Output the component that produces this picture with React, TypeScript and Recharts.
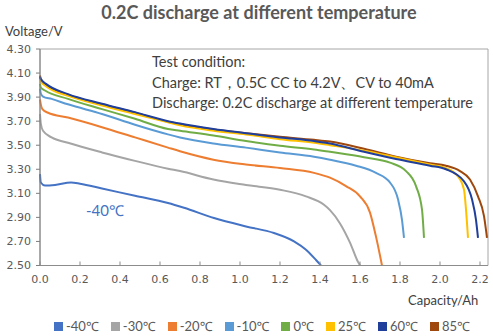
import React from "react";
import {
  Line,
  LineChart,
  ReferenceArea,
  XAxis,
  YAxis,
} from "recharts";

// capacity (Ah) / voltage (V) pairs per temperature
const capM40 = [0, 0.004, 0.025, 0.075, 0.155, 0.2, 0.31, 0.475, 0.64, 0.72, 0.87, 1.03, 1.17, 1.27, 1.33, 1.38, 1.405];
const voltM40 = [3.26, 3.19, 3.165, 3.17, 3.19, 3.18, 3.14, 3.08, 3.02, 2.98, 2.895, 2.825, 2.77, 2.7, 2.63, 2.546, 2.5];

const capM30 = [0, 0.004, 0.015, 0.058, 0.14, 0.31, 0.475, 0.64, 0.7, 0.867, 1.03, 1.2, 1.33, 1.42, 1.45, 1.5, 1.55, 1.59, 1.6];
const voltM30 = [3.76, 3.68, 3.62, 3.565, 3.52, 3.44, 3.37, 3.305, 3.285, 3.215, 3.17, 3.13, 3.075, 3.005, 2.96, 2.85, 2.69, 2.53, 2.5];

const capM20 = [0, 0.004, 0.012, 0.04, 0.14, 0.31, 0.475, 0.64, 0.7, 0.867, 1.03, 1.2, 1.37, 1.45, 1.53, 1.6, 1.65, 1.68, 1.71];
const voltM20 = [3.88, 3.84, 3.8, 3.77, 3.73, 3.65, 3.565, 3.48, 3.45, 3.38, 3.34, 3.31, 3.27, 3.23, 3.16, 3.075, 2.94, 2.74, 2.5];

const capM10 = [0, 0.004, 0.015, 0.058, 0.14, 0.31, 0.475, 0.64, 0.7, 0.867, 1.03, 1.2, 1.37, 1.45, 1.58, 1.68, 1.75, 1.79, 1.81, 1.82];
const voltM10 = [3.97, 3.93, 3.905, 3.885, 3.84, 3.76, 3.67, 3.59, 3.565, 3.515, 3.48, 3.44, 3.405, 3.38, 3.33, 3.27, 3.19, 3.05, 2.88, 2.73];

const cap0 = [0, 0.004, 0.025, 0.14, 0.31, 0.475, 0.64, 0.7, 0.867, 1.03, 1.2, 1.37, 1.45, 1.62, 1.75, 1.83, 1.88, 1.91, 1.92];
const volt0 = [4.01, 3.98, 3.955, 3.885, 3.8, 3.72, 3.635, 3.62, 3.58, 3.535, 3.495, 3.465, 3.445, 3.4, 3.355, 3.285, 3.16, 2.965, 2.73];

const cap25 = [0, 0.004, 0.03, 0.14, 0.31, 0.475, 0.64, 0.7, 0.867, 1.03, 1.2, 1.37, 1.45, 1.62, 1.78, 1.95, 2.03, 2.09, 2.12, 2.13, 2.14];
const volt25 = [4.05, 4.03, 3.99, 3.91, 3.83, 3.76, 3.69, 3.665, 3.62, 3.59, 3.55, 3.52, 3.5, 3.455, 3.4, 3.34, 3.31, 3.24, 3.13, 2.965, 2.73];

const cap60 = [0, 0.004, 0.03, 0.14, 0.31, 0.475, 0.64, 0.7, 0.867, 1.03, 1.2, 1.37, 1.45, 1.62, 1.78, 1.95, 2.03, 2.12, 2.16, 2.18, 2.19];
const volt60 = [4.07, 4.05, 4.01, 3.925, 3.845, 3.775, 3.7, 3.68, 3.635, 3.6, 3.565, 3.535, 3.515, 3.445, 3.385, 3.33, 3.3, 3.2, 3.05, 2.88, 2.73];

const cap85 = [0, 0.004, 0.03, 0.14, 0.31, 0.475, 0.64, 0.867, 1.03, 1.2, 1.37, 1.45, 1.62, 1.78, 1.95, 2.03, 2.1, 2.15, 2.19, 2.22, 2.235];
const volt85 = [4.08, 4.05, 4.005, 3.92, 3.84, 3.77, 3.695, 3.63, 3.6, 3.57, 3.545, 3.53, 3.47, 3.405, 3.35, 3.33, 3.285, 3.215, 3.075, 2.91, 2.73];

const seriesNames = ["-40℃", "-30℃", "-20℃", "-10℃", "0℃", "25℃", "60℃", "85℃"];
const seriesColors = ["#4472c4", "#a5a5a5", "#ed7d31", "#5b9bd5", "#70ad47", "#ffc000", "#203f9a", "#9e480e"];
const capacities = [capM40, capM30, capM20, capM10, cap0, cap25, cap60, cap85];
const voltages = [voltM40, voltM30, voltM20, voltM10, volt0, volt25, volt60, volt85];

const xTicks = [0, 0.2, 0.4, 0.6, 0.8, 1.0, 1.2, 1.4, 1.6, 1.8, 2.0, 2.2];
const yTicks = [2.5, 2.7, 2.9, 3.1, 3.3, 3.5, 3.7, 3.9, 4.1, 4.3];

const series = seriesNames.map((name, i) => ({
  name,
  color: seriesColors[i],
  data: capacities[i].map((cap, j) => ({ cap, v: voltages[i][j] })),
}));

// brown first so it sits underneath like in the original
const drawOrder = [7, 0, 1, 2, 3, 4, 5, 6];

const tickFont = "'DejaVu Sans', Verdana, sans-serif";
const textFont = "Lato, 'Noto Sans', sans-serif";

function XTick(props: any) {
  const { x, y, payload } = props;
  return (
    <g>
      <line x1={x} y1={y - 4} x2={x} y2={y} stroke="#8c8c8c" />
      <text
        x={x}
        y={y + 17}
        textAnchor="middle"
        fill="#595959"
        fontSize={11}
        fontFamily={tickFont}
      >
        {Number(payload.value).toFixed(1)}
      </text>
    </g>
  );
}

export default function App() {
  return (
    <div
      style={{
        position: "absolute",
        left: 0,
        top: 0,
        width: 493,
        height: 336,
        background: "#fff",
        fontFamily: textFont,
      }}
    >
      <LineChart
        width={493}
        height={336}
        margin={{ top: 49, right: 5, bottom: 40.5, left: 0 }}
      >
        <ReferenceArea
          x1={0}
          x2={2.24}
          y1={2.5}
          y2={4.3}
          fill="none"
          stroke="#a6a6a6"
          strokeWidth={1}
        />
        <XAxis
          type="number"
          dataKey="cap"
          domain={[0, 2.24]}
          ticks={xTicks}
          interval={0}
          height={30}
          tickSize={0}
          tickMargin={0}
          tick={<XTick />}
          axisLine={{ stroke: "#8c8c8c" }}
          allowDuplicatedCategory={false}
        />
        <YAxis
          type="number"
          domain={[2.5, 4.3]}
          ticks={yTicks}
          interval={0}
          width={40}
          tickSize={4}
          tickMargin={5}
          tickFormatter={(v: number) => v.toFixed(2)}
          tick={{ fill: "#595959", fontSize: 11, fontFamily: tickFont }}
          axisLine={{ stroke: "#7f7f7f" }}
          tickLine={{ stroke: "#7f7f7f" }}
        />
        {drawOrder.map((i) => (
          <Line
            key={series[i].name}
            name={series[i].name}
            data={series[i].data}
            dataKey="v"
            type="monotone"
            stroke={series[i].color}
            strokeWidth={2}
            dot={false}
            isAnimationActive={false}
          />
        ))}
      </LineChart>

      <div
        style={{
          position: "absolute",
          left: 0,
          top: 2,
          width: 518,
          textAlign: "center",
          fontSize: 18,
          fontWeight: 700,
          lineHeight: "20px",
          color: "#595959",
        }}
      >
        0.2C discharge at different temperature
      </div>
      <div
        style={{
          position: "absolute",
          left: 5,
          top: 23,
          fontSize: 13,
          lineHeight: "16px",
          color: "#404040",
        }}
      >
        Voltage/V
      </div>
      <div
        style={{
          position: "absolute",
          left: 152,
          top: 52,
          fontSize: 14.5,
          lineHeight: "20.5px",
          color: "#404040",
          whiteSpace: "nowrap",
        }}
      >
        <div>Test condition:</div>
        <div>Charge: RT，0.5C CC to 4.2V、CV to 40mA</div>
        <div>Discharge: 0.2C discharge at different temperature</div>
      </div>
      <div
        style={{
          position: "absolute",
          left: 86,
          top: 201,
          fontSize: 15,
          lineHeight: "18px",
          color: "#4472c4",
        }}
      >
        -40℃
      </div>
      <div
        style={{
          position: "absolute",
          left: 408,
          top: 292,
          fontSize: 13,
          lineHeight: "16px",
          color: "#404040",
        }}
      >
        Capacity/Ah
      </div>
      <div
        style={{
          position: "absolute",
          left: 54,
          top: 318,
          display: "flex",
          alignItems: "center",
          fontSize: 13,
          lineHeight: "16px",
          color: "#595959",
          whiteSpace: "nowrap",
        }}
      >
        {series.map((s) => (
          <div
            key={s.name}
            style={{ display: "flex", alignItems: "center", marginRight: 12 }}
          >
            <span
              style={{
                display: "inline-block",
                width: 9,
                height: 9,
                background: s.color,
                marginRight: 3,
              }}
            />
            <span>{s.name}</span>
          </div>
        ))}
      </div>
    </div>
  );
}
